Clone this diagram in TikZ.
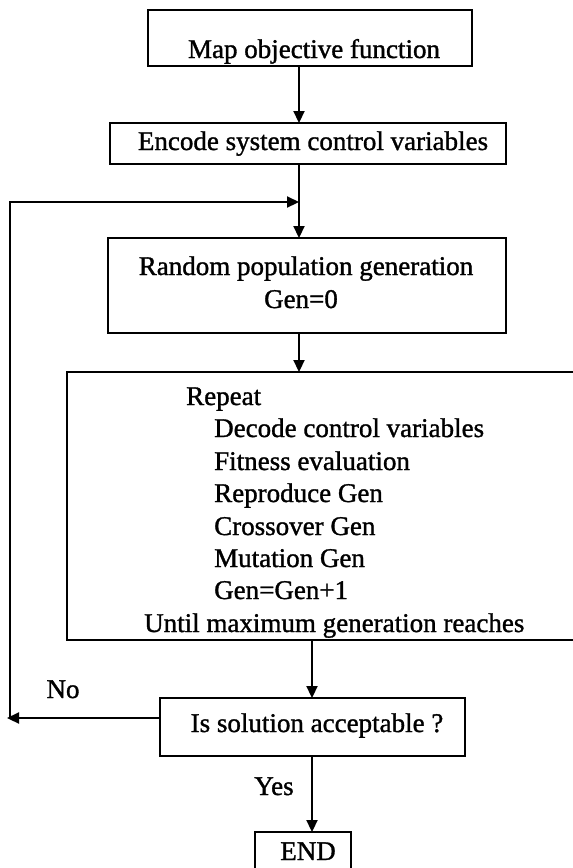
\documentclass[tikz,border=0pt]{standalone}
\usepackage{fontspec}
\setmainfont{Liberation Serif}[RawFeature={embolden=1.2}]
\usetikzlibrary{arrows.meta}
\begin{document}
\begin{tikzpicture}[x=1pt,y=-1pt,
  box/.style={draw,line width=2.5pt,inner sep=0pt,outer sep=0pt},
  frame/.style={inner sep=0pt,outer sep=0pt},
  txt/.style={anchor=base,inner sep=0pt,font=\fontsize{27}{27}\selectfont},
  ltxt/.style={anchor=base west,inner sep=0pt,font=\fontsize{27}{27}\selectfont},
  ln/.style={line width=2.5pt},
  arr/.style={line width=2.2pt,-{Triangle[length=12pt,width=11pt]}}]
\useasboundingbox (0,0) rectangle (573,868);
\fill[white] (0,0) rectangle (573,868);

% boxes
\node[box,minimum width=324pt,minimum height=56pt] (map) at (310,38) {};
\node[box,minimum width=396pt,minimum height=41pt] (enc) at (308,143.5) {};
\node[box,minimum width=398pt,minimum height=95pt] (rand) at (307,285.5) {};
\node[frame,minimum width=506pt,minimum height=268pt] (loop) at (320,506) {};
\draw[ln] (loop.north east) -- (loop.north west) -- (loop.south west) -- (loop.south east);
\node[box,minimum width=305pt,minimum height=58pt] (dec) at (312.5,727) {};
\node[frame,minimum width=96pt,minimum height=38pt] (endb) at (303,851) {};
\draw[ln] (endb.south west) -- (endb.north west) -- (endb.north east) -- (endb.south east);

% texts
\node[txt] (tmap) at (314,58) {Map objective function};
\node[txt] (tenc) at (313,150) {Encode system control variables};
\node[txt] (trand) at (306,275) {Random population generation};
\node[txt] (tgen) at (301,308) {Gen=0};
\node[ltxt] (t1) at (186,405) {Repeat};
\node[ltxt] (t2) at (214,437) {Decode control variables};
\node[ltxt] (t3) at (214,470) {Fitness evaluation};
\node[ltxt] (t4) at (214,502) {Reproduce Gen};
\node[ltxt] (t5) at (214,535) {Crossover Gen};
\node[ltxt] (t6) at (214,567) {Mutation Gen};
\node[ltxt] (t7) at (214,599) {Gen=Gen+1};
\node[ltxt] (t8) at (144,632) {Until maximum generation reaches};
\node[txt] (tdec) at (317,732) {Is solution acceptable ?};
\node[txt] (tend) at (308,860) {END};
\node[txt] (tno) at (63,698) {No};
\node[txt] (tyes) at (274,795) {Yes};

% connectors
\coordinate (ax) at (299,0);
\coordinate (bx) at (312,0);
\coordinate (jn) at (299,202);
\coordinate (fb) at (10,718);
\coordinate (tipL) at (7,718);
\draw[arr] (map.south -| ax) -- (enc.north -| ax);
\draw[arr] (enc.south -| ax) -- (rand.north -| ax);
\draw[arr] (rand.south -| ax) -- (loop.north -| ax);
\draw[arr] (loop.south -| bx) -- (dec.north -| bx);
\draw[arr] (dec.south -| bx) -- (endb.north -| bx);
\draw[arr] (dec.west |- fb) -- (tipL);
\draw[arr] (fb) -- (fb |- jn) -- (jn);
\end{tikzpicture}
\end{document}
